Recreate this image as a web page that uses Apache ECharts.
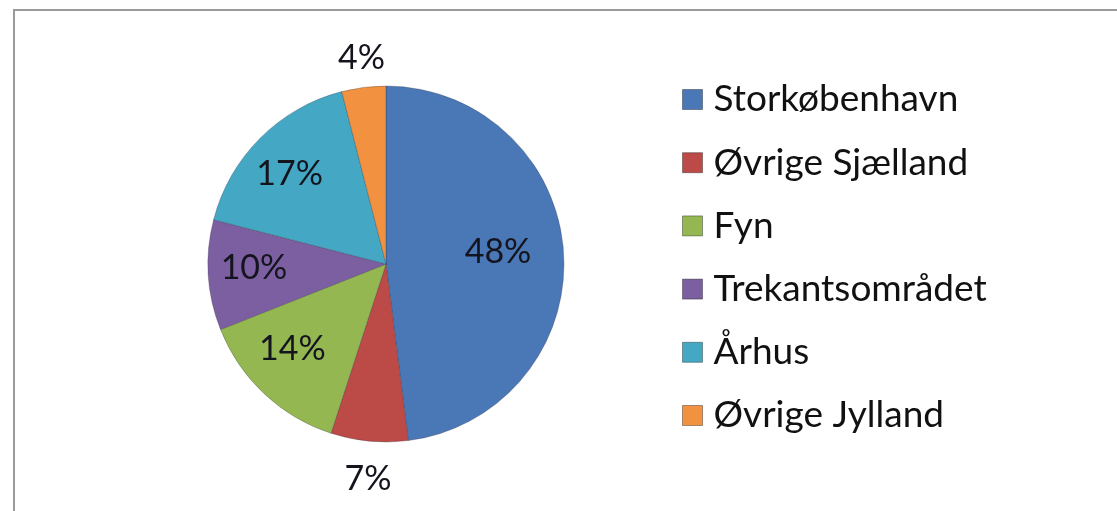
<!DOCTYPE html>
<html>
<head>
<meta charset="utf-8">
<script src="https://cdn.jsdelivr.net/npm/echarts@6/dist/echarts.min.js"></script>
<style>
html,body{margin:0;padding:0;background:#fff;}
#chart{width:1117px;height:511px;}
</style>
</head>
<body>
<div id="chart"></div>
<script>
const categories = ['Storkøbenhavn', 'Øvrige Sjælland', 'Fyn', 'Trekantsområdet', 'Århus', 'Øvrige Jylland'];
const shares = [48, 7, 14, 10, 17, 4];
const colors = ['#4A78B6', '#BC4A47', '#94B752', '#7C5FA0', '#44A8C4', '#F2913F'];

const FONT = 'Lato, "Open Sans", sans-serif';
const CX = 386, CY = 264, R = 178;
const smallLimit = 8; // slices below this share get their label outside

const data = categories.map((name, i) => ({ name: name, value: shares[i] }));

const chart = echarts.init(document.getElementById('chart'), null, { renderer: 'canvas' });
chart.setOption({
  animation: false,
  color: colors,
  graphic: [{
    type: 'rect',
    shape: { x: 14, y: 10, width: 1300, height: 700 },
    style: { fill: 'none', stroke: '#9a9a9a', lineWidth: 2 },
    silent: true, z: -10
  }],
  legend: {
    orient: 'vertical',
    left: 677,
    top: 76,
    itemWidth: 20,
    itemHeight: 20,
    itemGap: 26.2,
    icon: 'rect',
    data: categories,
    itemStyle: { borderColor: 'rgba(0,0,0,0.35)', borderWidth: 1 },
    textStyle: { fontFamily: FONT, fontSize: 37, color: '#111', lineHeight: 36, padding: [0, 0, 0, 6] }
  },
  series: [
    {
      type: 'pie',
      center: [CX, CY],
      radius: [0, R],
      startAngle: 90,
      clockwise: true,
      silent: true,
      label: { show: false },
      labelLine: { show: false },
      itemStyle: { borderColor: 'rgba(40,40,60,0.35)', borderWidth: 0.8 },
      data: data
    },
    {
      type: 'pie',
      center: [CX - 10, CY - 4],
      radius: [0, R * 1.34],
      startAngle: 90,
      clockwise: true,
      silent: true,
      itemStyle: { color: 'rgba(0,0,0,0)' },
      label: {
        show: true, position: 'inside',
        fontFamily: FONT, fontSize: 34, color: '#14141e',
        formatter: p => p.value < smallLimit ? '' : p.value + '%'
      },
      labelLine: { show: false },
      legendHoverLink: false,
      data: data.map(d => ({ name: d.name + ' ', value: d.value }))
    },
    {
      type: 'pie',
      center: [CX + 2, CY + 4],
      radius: [R + 17, R + 45],
      startAngle: 90,
      clockwise: true,
      silent: true,
      itemStyle: { color: 'rgba(0,0,0,0)' },
      label: {
        show: true, position: 'inside',
        fontFamily: FONT, fontSize: 34, color: '#14141e',
        formatter: p => p.value < smallLimit ? p.value + '%' : ''
      },
      labelLine: { show: false },
      data: data.map(d => ({ name: d.name + '  ', value: d.value }))
    }
  ]
});
</script>
</body>
</html>
